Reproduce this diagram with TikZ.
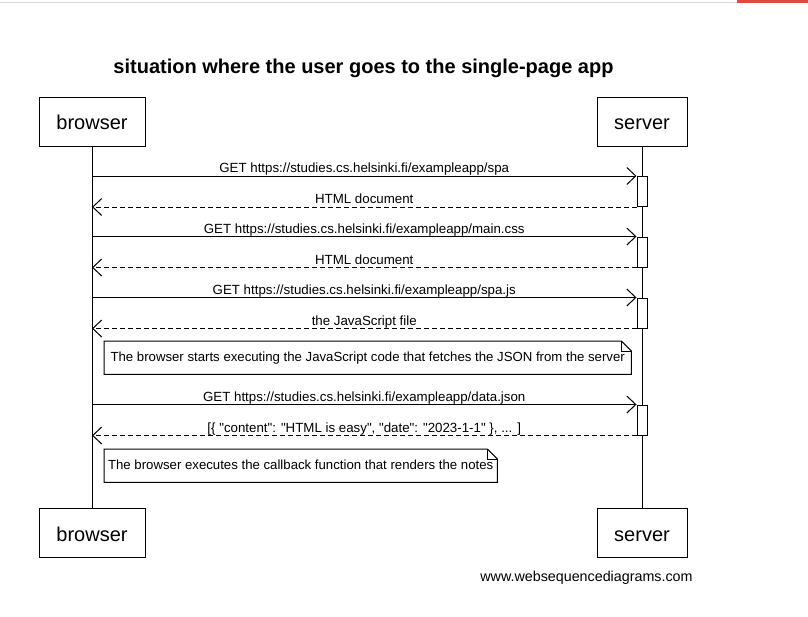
\documentclass[tikz,border=0pt]{standalone}
\usepackage{fontspec}
\setmainfont{Liberation Sans}[Ligatures=TeXOff]
\usetikzlibrary{arrows.meta}
\definecolor{tabred}{RGB}{222,75,57}

\tikzset{
    actor/.style={draw, line width=1pt, minimum width=106pt, minimum height=49pt, inner sep=0pt, text height=16.5pt, text depth=0pt, font=\fontsize{20}{22}\selectfont},
    actorsrv/.style={actor, minimum width=90pt},
    life/.style={line width=1pt},
    act/.style={draw, line width=1pt, fill=white, minimum width=10pt, minimum height=30pt, inner sep=0pt},
    call/.style={line width=1pt, -{Straight Barb[length=9pt,width=17pt,line width=1pt]}},
    reply/.style={call, dash pattern=on 5pt off 3pt},
    msg/.style={above, inner sep=0pt, text depth=3pt, yshift=-0.3pt, font=\fontsize{13.3}{15}\selectfont},
    note/.style={minimum width=527pt, minimum height=33pt, inner sep=3pt, text height=11.5pt, text depth=3pt, font=\fontsize{13.2}{15}\selectfont}
}

\begin{document}
\begin{tikzpicture}[x=1pt,y=-1pt]
    \useasboundingbox (0,0) rectangle (808,616);
    \fill[black!14] (0,1.5) rectangle (737,2.5);
    \fill[tabred] (737,0) rectangle (808,2.5);

    \node[font=\bfseries\fontsize{20}{22}\selectfont] (title) at (363.5,68) {situation where the user goes to the single-page app};

    \node[actor] (b1) at (92,121.5) {browser};
    \node[actorsrv] (s1) at (642,121.5) {server};
    \node[actor] (b2) at (92,533) {browser};
    \node[actorsrv] (s2) at (642,533) {server};
    \draw[life] (b1) -- (b2);
    \draw[life] (s1) -- (s2);

    \node[act] (a1) at (642,191.5) {};
    \node[act] (a2) at (642,252) {};
    \node[act] (a3) at (642,313) {};
    \node[act] (a4) at (642,420) {};

    \draw[call] (a1.north west -| b1) -- (a1.north west) node[msg, midway] {GET https://studies.cs.helsinki.fi/exampleapp/spa};
    \draw[reply] (a1.south west) -- (a1.south west -| b1) node[msg, midway] {HTML document};
    \draw[call] (a2.north west -| b1) -- (a2.north west) node[msg, midway] {GET https://studies.cs.helsinki.fi/exampleapp/main.css};
    \draw[reply] (a2.south west) -- (a2.south west -| b1) node[msg, midway] {HTML document};
    \draw[call] (a3.north west -| b1) -- (a3.north west) node[msg, midway] {GET https://studies.cs.helsinki.fi/exampleapp/spa.js};
    \draw[reply] (a3.south west) -- (a3.south west -| b1) node[msg, midway] {the JavaScript file};

    \node[note, anchor=north west] (n1) at (104,341) {The browser starts executing the JavaScript code that fetches the JSON from the server};
    \draw[line width=1pt] (n1.north west) -- ([xshift=-10pt]n1.north east) -- ([yshift=-10pt]n1.north east) -- (n1.south east) -- (n1.south west) -- cycle;
    \draw[line width=1pt] ([xshift=-10pt]n1.north east) |- ([yshift=-10pt]n1.north east);

    \draw[call] (a4.north west -| b1) -- (a4.north west) node[msg, midway] {GET https://studies.cs.helsinki.fi/exampleapp/data.json};
    \draw[reply] (a4.south west) -- (a4.south west -| b1) node[msg, midway] {[\{ "content": "HTML is easy", "date": "2023-1-1" \}, ... ]};

    \node[note, anchor=north west, minimum width=393pt, minimum height=33pt] (n2) at (104,449) {The browser executes the callback function that renders the notes};
    \draw[line width=1pt] (n2.north west) -- ([xshift=-10pt]n2.north east) -- ([yshift=-10pt]n2.north east) -- (n2.south east) -- (n2.south west) -- cycle;
    \draw[line width=1pt] ([xshift=-10pt]n2.north east) |- ([yshift=-10pt]n2.north east);

    \node[font=\fontsize{14.3}{16}\selectfont] (web) at (586.5,578) {www.websequencediagrams.com};
\end{tikzpicture}
\end{document}
